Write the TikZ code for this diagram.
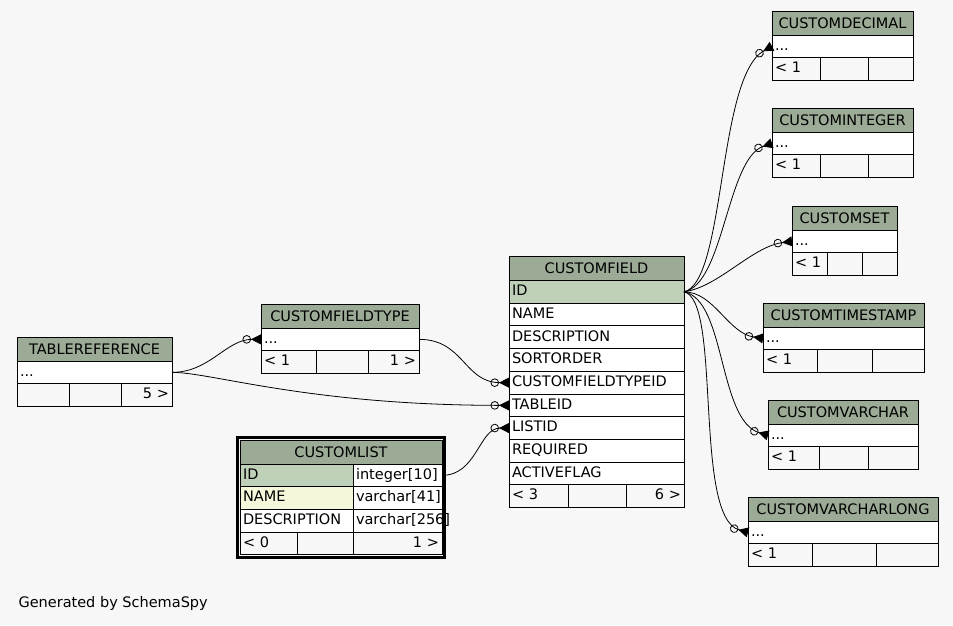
\documentclass[tikz,border=0pt]{standalone}
\usepackage{fontspec}
\setmainfont{DejaVu Sans}
\usetikzlibrary{arrows.meta}
\definecolor{pagebg}{HTML}{F7F7F7}
\definecolor{headfill}{HTML}{9BAB96}
\definecolor{keyfill}{HTML}{BED1B8}
\definecolor{idxfill}{HTML}{F4F7DA}

\begin{document}
\begin{tikzpicture}[
  x=1pt, y=-1pt,
  font=\fontsize{14.5}{16}\selectfont,
  tblhead/.style={draw, fill=headfill, anchor=north west, inner sep=0pt, outer sep=0pt,
                  minimum width=#1, minimum height=24pt, line width=1pt},
  tblrow/.style={draw, fill=white, anchor=north west, inner xsep=3pt, inner ysep=0pt,
                 outer sep=0pt, text width=#1, align=left, minimum height=22.7pt,
                 text height=11pt, text depth=3.5pt, line width=1pt},
  tblfoot/.style={tblrow=#1, fill=pagebg},
  fk/.style={line width=0.8pt,
             -{Circle[open,length=8.5pt,width=8.5pt] Triangle[reversed,length=10pt,width=10pt]}},
]
  \fill[pagebg] (0,0) rectangle (953,625);
  \useasboundingbox (0,0) rectangle (953,625);

  % TABLEREFERENCE
  \node[tblhead=155] (tr-head) at (17,337) {TABLEREFERENCE};
  \node[tblrow=149] (tr-dots) at (tr-head.south west) {...};
  \node[tblfoot=46] (tr-f1) at (tr-dots.south west) {};
  \node[tblfoot=46] (tr-f2) at (tr-f1.north east) {};
  \node[tblfoot=45, align=right] (tr-f3) at (tr-f2.north east) {5 >};

  % CUSTOMFIELDTYPE
  \node[tblhead=158] (cft-head) at (261,304) {CUSTOMFIELDTYPE};
  \node[tblrow=152] (cft-dots) at (cft-head.south west) {...};
  \node[tblfoot=49] (cft-f1) at (cft-dots.south west) {< 1};
  \node[tblfoot=46] (cft-f2) at (cft-f1.north east) {};
  \node[tblfoot=45, align=right] (cft-f3) at (cft-f2.north east) {1 >};

  % CUSTOMFIELD
  \node[tblhead=175, minimum height=24.5pt] (cf-head) at (509,256) {CUSTOMFIELD};
  \node[tblrow=169, fill=keyfill] (cf-id) at (cf-head.south west) {ID};
  \node[tblrow=169] (cf-name) at (cf-id.south west) {NAME};
  \node[tblrow=169] (cf-desc) at (cf-name.south west) {DESCRIPTION};
  \node[tblrow=169] (cf-sort) at (cf-desc.south west) {SORTORDER};
  \node[tblrow=169] (cf-cftid) at (cf-sort.south west) {CUSTOMFIELDTYPEID};
  \node[tblrow=169] (cf-tableid) at (cf-cftid.south west) {TABLEID};
  \node[tblrow=169] (cf-listid) at (cf-tableid.south west) {LISTID};
  \node[tblrow=169] (cf-req) at (cf-listid.south west) {REQUIRED};
  \node[tblrow=169] (cf-active) at (cf-req.south west) {ACTIVEFLAG};
  \node[tblfoot=53] (cf-f1) at (cf-active.south west) {< 3};
  \node[tblfoot=52] (cf-f2) at (cf-f1.north east) {};
  \node[tblfoot=52, align=right] (cf-f3) at (cf-f2.north east) {6 >};

  % CUSTOMLIST
  \node[tblhead=202] (cl-head) at (240,440) {CUSTOMLIST};
  \node[tblrow=107, fill=keyfill] (cl-id) at (cl-head.south west) {ID};
  \node[tblrow=83] (cl-idtype) at (cl-id.north east) {integer[10]};
  \node[tblrow=107, fill=idxfill] (cl-name) at (cl-id.south west) {NAME};
  \node[tblrow=83] (cl-nametype) at (cl-name.north east) {varchar[41]};
  \node[tblrow=107] (cl-desc) at (cl-name.south west) {DESCRIPTION};
  \node[tblrow=83] (cl-desctype) at (cl-desc.north east) {varchar[256]};
  \node[tblfoot=51] (cl-f1) at (cl-desc.south west) {< 0};
  \node[tblfoot=50] (cl-f2) at (cl-f1.north east) {};
  \node[tblfoot=83, align=right] (cl-f3) at (cl-f2.north east) {1 >};
  \draw[line width=3pt] ([shift={(-2.5,-2.5)}]cl-head.north west)
    rectangle ([shift={(2.5,2.5)}]cl-f3.south east);

  % CUSTOMDECIMAL
  \node[tblhead=141] (cd-head) at (772,11) {CUSTOMDECIMAL};
  \node[tblrow=135] (cd-dots) at (cd-head.south west) {...};
  \node[tblfoot=42] (cd-f1) at (cd-dots.south west) {< 1};
  \node[tblfoot=42] (cd-f2) at (cd-f1.north east) {};
  \node[tblfoot=39] (cd-f3) at (cd-f2.north east) {};

  % CUSTOMINTEGER
  \node[tblhead=141] (ci-head) at (772,108) {CUSTOMINTEGER};
  \node[tblrow=135] (ci-dots) at (ci-head.south west) {...};
  \node[tblfoot=42] (ci-f1) at (ci-dots.south west) {< 1};
  \node[tblfoot=42] (ci-f2) at (ci-f1.north east) {};
  \node[tblfoot=39] (ci-f3) at (ci-f2.north east) {};

  % CUSTOMSET
  \node[tblhead=105] (cs-head) at (792,206) {CUSTOMSET};
  \node[tblrow=99] (cs-dots) at (cs-head.south west) {...};
  \node[tblfoot=29] (cs-f1) at (cs-dots.south west) {< 1};
  \node[tblfoot=29] (cs-f2) at (cs-f1.north east) {};
  \node[tblfoot=29] (cs-f3) at (cs-f2.north east) {};

  % CUSTOMTIMESTAMP
  \node[tblhead=161] (cts-head) at (763,303) {CUSTOMTIMESTAMP};
  \node[tblrow=155] (cts-dots) at (cts-head.south west) {...};
  \node[tblfoot=48] (cts-f1) at (cts-dots.south west) {< 1};
  \node[tblfoot=49] (cts-f2) at (cts-f1.north east) {};
  \node[tblfoot=46] (cts-f3) at (cts-f2.north east) {};

  % CUSTOMVARCHAR
  \node[tblhead=150] (cv-head) at (768,400) {CUSTOMVARCHAR};
  \node[tblrow=144] (cv-dots) at (cv-head.south west) {...};
  \node[tblfoot=45] (cv-f1) at (cv-dots.south west) {< 1};
  \node[tblfoot=43] (cv-f2) at (cv-f1.north east) {};
  \node[tblfoot=44] (cv-f3) at (cv-f2.north east) {};

  % CUSTOMVARCHARLONG
  \node[tblhead=190] (cvl-head) at (748,497) {CUSTOMVARCHARLONG};
  \node[tblrow=184] (cvl-dots) at (cvl-head.south west) {...};
  \node[tblfoot=58] (cvl-f1) at (cvl-dots.south west) {< 1};
  \node[tblfoot=58] (cvl-f2) at (cvl-f1.north east) {};
  \node[tblfoot=56] (cvl-f3) at (cvl-f2.north east) {};

  % foreign keys
  \draw[fk] (tr-dots.east) .. controls +(38,0) and +(-35,0) .. (cft-dots.west);
  \draw[fk] (tr-dots.east) .. controls +(40,0) and +(-200,0) .. (cf-tableid.west);
  \draw[fk] (cft-dots.east) .. controls +(45,0) and +(-45,0) .. (cf-cftid.west);
  \draw[fk] (cl-idtype.east) .. controls +(35,0) and +(-30,0) .. (cf-listid.west);

  \draw[fk] (cf-id.east) .. controls +(42,-10) and +(-55,30) .. (cd-dots.west);
  \draw[fk] (cf-id.east) .. controls +(40,-8) and +(-45,15) .. (ci-dots.west);
  \draw[fk] (cf-id.east) .. controls +(35,-5) and +(-40,5) .. (cs-dots.west);
  \draw[fk] (cf-id.east) .. controls +(30,0) and +(-35,-5) .. (cts-dots.west);
  \draw[fk] (cf-id.east) .. controls +(42,8) and +(-50,-15) .. (cv-dots.west);
  \draw[fk] (cf-id.east) .. controls +(38,8) and +(-55,-15) .. (cvl-dots.west);

  \node[anchor=west] (credit) at (15,603) {Generated by SchemaSpy};
\end{tikzpicture}
\end{document}
